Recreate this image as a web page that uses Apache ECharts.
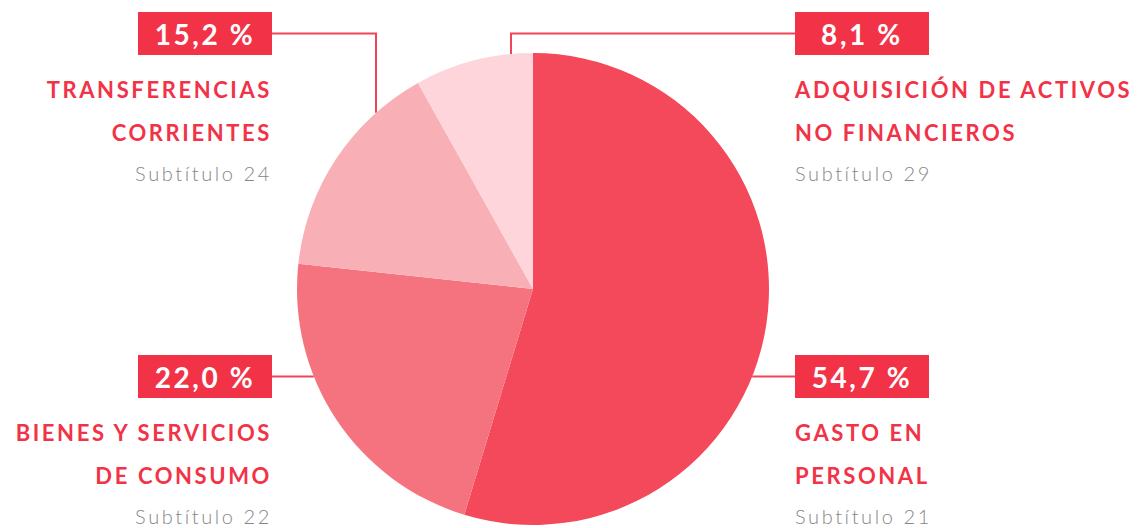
<!DOCTYPE html>
<html>
<head>
<meta charset="utf-8">
<script src="https://cdn.jsdelivr.net/npm/echarts@6/dist/echarts.min.js"></script>
<style>
  html, body { margin: 0; padding: 0; background: #fff; }
  #chart { width: 1137px; height: 528px; }
  /* el svg deja espaciar las letras como en el original */
  #chart text { letter-spacing: 2.6px; }
</style>
</head>
<body>
<div id="chart"></div>
<script>
// datos
var categories = ['GASTO EN\nPERSONAL', 'BIENES Y SERVICIOS\nDE CONSUMO', 'TRANSFERENCIAS\nCORRIENTES', 'ADQUISICIÓN DE ACTIVOS\nNO FINANCIEROS'];
var subtitles = ['Subtítulo 21', 'Subtítulo 22', 'Subtítulo 24', 'Subtítulo 29'];
var values = [54.7, 22.0, 15.2, 8.1];
var colors = ['#F4485B', '#F5737E', '#F9AFB6', '#FDD5DA'];

// geometria del pie y de las etiquetas
var cx = 533, cy = 289, r = 236;
var boxW = 134, boxH = 43;
var labelPos = [
	{ x: 795, y: 355, align: 'left' },
	{ x: 272, y: 355, align: 'right' },
	{ x: 272, y: 12, align: 'right', elbowX: 376 },
	{ x: 795, y: 12, align: 'left', elbowX: 511 }
];

function fmt(v) {
	return v.toFixed(1).replace('.', ',') + ' %';
}

var data = [];
for (var i = 0; i < values.length; i++) {
	data.push({
		name: categories[i],
		value: values[i],
		itemStyle: { color: colors[i] }
	});
}

var chart = echarts.init(document.getElementById('chart'), null, { renderer: 'svg' });

chart.setOption({
	animation: false,
	series: [{
		// tajadas, lineas y caja con el porcentaje
		type: 'pie',
		center: [cx, cy],
		radius: r,
		startAngle: 90,
		clockwise: true,
		data: data,
		emphasis: { disabled: true },
		label: {
			show: true,
			position: 'outside',
			formatter: function (p) {
				return fmt(p.value);
			},
			backgroundColor: '#F23347',
			color: '#fff',
			fontFamily: 'Lato',
			fontSize: 28,
			fontWeight: 'bold',
			width: boxW,
			height: boxH,
			lineHeight: boxH,
			padding: 0
		},
		labelLine: {
			show: true,
			lineStyle: { color: '#F04558', width: 2 }
		},
		labelLayout: function (params) {
			var pos = labelPos[params.dataIndex];
			var midY = pos.y + boxH / 2;
			var pts;
			if (pos.elbowX != null) {
				var ey = cy - Math.sqrt(r * r - (pos.elbowX - cx) * (pos.elbowX - cx));
				pts = [[pos.elbowX, ey], [pos.elbowX, midY], [pos.x, midY]];
			} else {
				var dx = Math.sqrt(r * r - (midY - cy) * (midY - cy));
				var ex = pos.align == 'left' ? cx + dx : cx - dx;
				pts = [[ex, midY], [(ex + pos.x) / 2, midY], [pos.x, midY]];
			}
			var boxX = pos.align == 'left' ? pos.x + boxW / 2 : pos.x - boxW / 2;
			return {
				x: boxX,
				y: pos.y,
				align: 'center',
				verticalAlign: 'top',
				labelLinePoints: pts
			};
		}
	}, {
		// misma torta sin relleno, solo para los nombres
		type: 'pie',
		center: [cx, cy],
		radius: r,
		startAngle: 90,
		clockwise: true,
		silent: true,
		data: data.map(function (d) {
			return { name: d.name, value: d.value, itemStyle: { color: 'rgba(0,0,0,0)' } };
		}),
		emphasis: { disabled: true },
		label: {
			show: true,
			position: 'outside',
			formatter: function (p) {
				var lines = p.name.split('\n');
				var s = [];
				for (var k = 0; k < lines.length; k++) {
					s.push('{name|' + lines[k] + '}');
				}
				s.push('{sub|' + subtitles[p.dataIndex] + '}');
				return s.join('\n');
			},
			rich: {
				name: {
					color: '#F23347',
					fontFamily: 'Lato',
					fontSize: 22,
					fontWeight: 'bold',
					lineHeight: 43
				},
				sub: {
					color: '#878787',
					fontFamily: 'Lato',
					fontSize: 20,
					fontWeight: 300,
					lineHeight: 38
				}
			}
		},
		labelLine: { show: false },
		labelLayout: function (params) {
			var pos = labelPos[params.dataIndex];
			return {
				x: pos.x,
				y: pos.y + boxH + 13,
				align: pos.align,
				verticalAlign: 'top'
			};
		}
	}]
});
</script>
</body>
</html>
